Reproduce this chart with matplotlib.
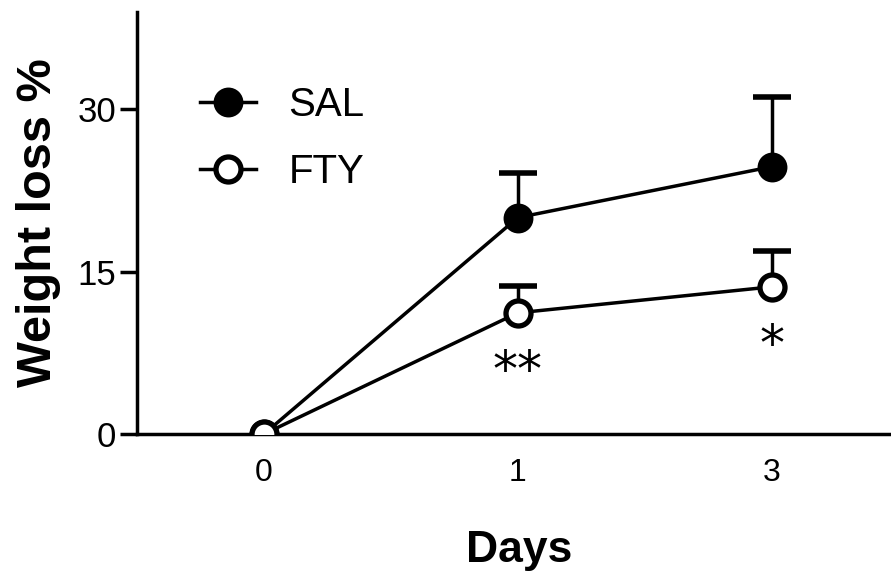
import matplotlib
matplotlib.use("Agg")
import matplotlib.pyplot as plt
import numpy as np

days = ["0", "1", "3"]
sal_mean = [0, 20.0, 24.7]
sal_err = [0, 4.1, 6.4]
fty_mean = [0, 11.2, 13.6]
fty_err = [0, 2.5, 3.3]
stars = ["", "**", "*"]

plt.rcParams['font.family'] = ['Liberation Sans', 'DejaVu Sans']

fig = plt.figure(figsize=(8.91, 5.84), dpi=100)
ax = fig.add_axes([0.1538, 0.2568, 0.8462, 0.7227])

x = np.arange(len(days))
lw = 2.5

# upper-only error bars: stem + cap
for mean, err in [(sal_mean, sal_err), (fty_mean, fty_err)]:
    top = np.array(mean) + np.array(err)
    m = np.array(err) > 0
    ax.vlines(x[m], np.array(mean)[m], top[m], color='black', lw=lw, zorder=2)
    ax.plot(x[m], top[m], ls='none', marker='_', ms=28, mew=4, color='black', zorder=2)

ax.plot(x, sal_mean, '-o', color='black', lw=lw, ms=19, mfc='black', mec='black',
        mew=2.5, label='SAL', zorder=3)
ax.plot(x, fty_mean, '-o', color='black', lw=lw, ms=18, mfc='white', mec='black',
        mew=3.8, label='FTY', zorder=4)

for i, s in enumerate(stars):
    if s:
        ax.text(x[i], fty_mean[i] - 5.5, s, ha='center', va='center', fontsize=36,
                family='DejaVu Sans', color='black')

ax.set_xlim(-0.5, 2.47)
ax.set_ylim(0, 39)
ax.set_yticks([0, 15, 30])
ax.set_xticks(x)
ax.set_xticklabels(days)
ax.tick_params(axis='y', length=12, width=2.5, labelsize=25, pad=3)
ax.tick_params(axis='x', length=0, labelsize=23, pad=17)

for side in ['top', 'right']:
    ax.spines[side].set_visible(False)
for side in ['left', 'bottom']:
    ax.spines[side].set_linewidth(2.5)

ax.set_ylabel('Weight loss %', fontsize=35, fontweight='bold', labelpad=12)
fig.text(0.583, 0.058, 'Days', ha='center', va='center', fontsize=32, fontweight='bold')

leg = ax.legend(loc='upper left', bbox_to_anchor=(0.035, 0.91), frameon=False,
                fontsize=29, handlelength=1.4, labelspacing=0.72, handletextpad=0.8)

fig.savefig('out.png', dpi=100)
